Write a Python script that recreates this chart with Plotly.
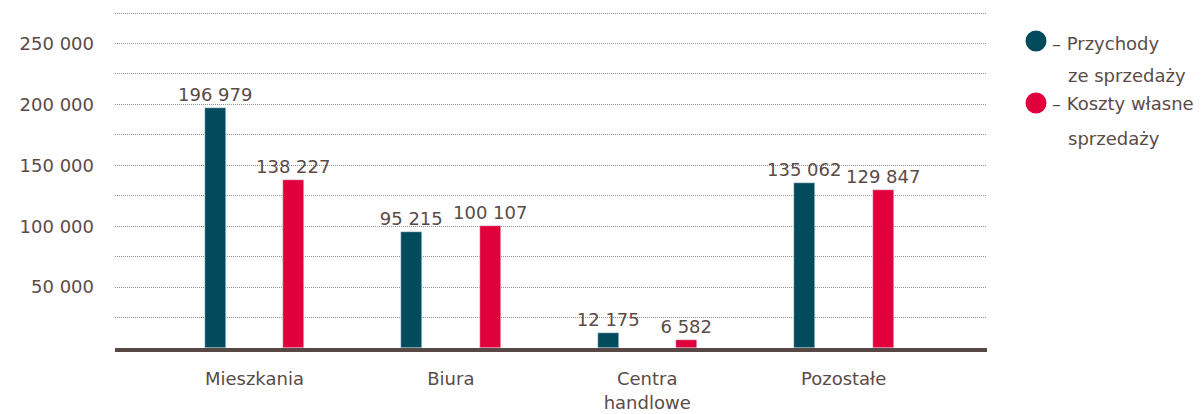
import plotly.graph_objects as go

categories = ["Mieszkania", "Biura", "Centra<br>handlowe", "Pozostałe"]
revenue = [196979, 95215, 12175, 135062]
costs = [138227, 100107, 6582, 129847]
series_names = ["Przychody ze sprzedaży", "Koszty własne sprzedaży"]
ytick_vals = [50000, 100000, 150000, 200000, 250000]

TEAL = "#024b5c"
RED = "#e1003c"
TXT = "#5b4b48"
FONT = "DejaVu Sans"
FS = 18
GRID = "#8f8f8f"

def fmt(v):
    return f"{v:,}".replace(",", " ")

# page offset of the default HTML body margin
OFF = 8
W, H = 1202 - OFF, 414 - OFF
L, R, T, B = 115 - OFF, 987 - OFF, 10 - OFF, 348 - OFF

def px(x):
    return (x - OFF - L) / (R - L)

def py(y):
    return (B - (y - OFF)) / (B - T)

xs = list(range(len(categories)))

fig = go.Figure()
fig.add_trace(go.Bar(x=xs, y=revenue, name=series_names[0], marker_color=TEAL,
                     width=0.107, offset=-0.253,
                     text=[fmt(v) for v in revenue], textposition="outside",
                     textfont=dict(family=FONT, size=FS, color=TXT),
                     cliponaxis=False, showlegend=False))
fig.add_trace(go.Bar(x=xs, y=costs, name=series_names[1], marker_color=RED,
                     width=0.107, offset=0.147,
                     text=[fmt(v) for v in costs], textposition="outside",
                     textfont=dict(family=FONT, size=FS, color=TXT),
                     cliponaxis=False, showlegend=False))

fig.update_layout(
    width=W, height=H,
    margin=dict(l=L, r=W - R, t=T, b=H - B, pad=0, autoexpand=False),
    plot_bgcolor="white", paper_bgcolor="white",
    font=dict(family=FONT, size=FS, color=TXT),
    xaxis=dict(tickmode="array", tickvals=xs, ticktext=categories,
               range=[-0.71, 3.73], showgrid=False, showline=True,
               linecolor="#574846", linewidth=3.5, ticks="", zeroline=False,
               tickfont=dict(family=FONT, size=FS, color=TXT),
               ticklabelstandoff=12),
    yaxis=dict(range=[0, 277500], tickmode="array", tickvals=ytick_vals,
               ticktext=[fmt(v) for v in ytick_vals], showgrid=True,
               gridcolor=GRID, gridwidth=1, griddash="1px,1px",
               zeroline=False, showline=False, ticks="",
               tickfont=dict(family=FONT, size=FS, color=TXT),
               ticklabelstandoff=20,
               minor=dict(dtick=25000, tick0=0, showgrid=True,
                          gridcolor=GRID, gridwidth=1, griddash="1px,1px")),
    bargap=0,
)
fig.update_traces(constraintext="none")

# legend drawn manually
legend_items = [
    (TEAL, 41, ["– Przychody", "ze sprzedaży"], [44, 75]),
    (RED, 103, ["– Koszty własne", "sprzedaży"], [104, 138]),
]
for color, cy, lines, ys in legend_items:
    fig.add_shape(type="circle", xref="paper", yref="paper",
                  xsizemode="pixel", ysizemode="pixel",
                  xanchor=px(1036), yanchor=py(cy),
                  x0=-10.5, x1=10.5, y0=-10.5, y1=10.5,
                  fillcolor=color, line=dict(width=0))
    for i, (ln, yy) in enumerate(zip(lines, ys)):
        fig.add_annotation(xref="paper", yref="paper",
                           x=px(1050 if i == 0 else 1066), y=py(yy),
                           xanchor="left", yanchor="middle", showarrow=False,
                           text=ln, font=dict(family=FONT, size=FS, color=TXT))

fig.write_html("out.html")
